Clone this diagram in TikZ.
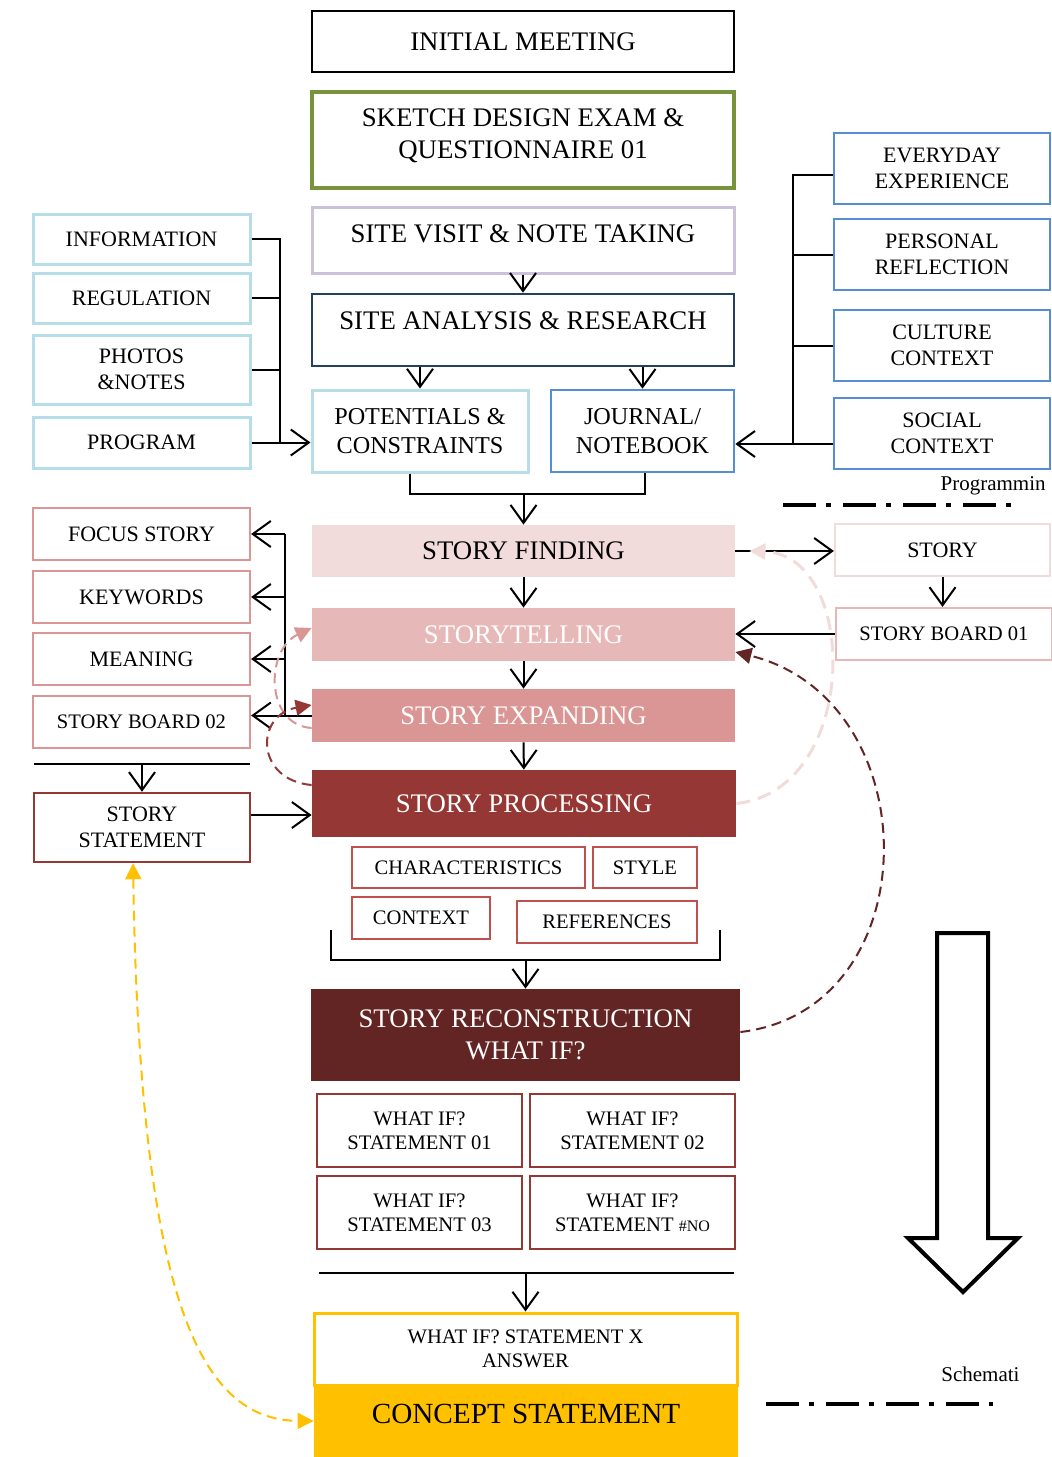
\documentclass[tikz,border=0pt]{standalone}
\usepackage{fontspec}
\setmainfont{Liberation Serif}
\usetikzlibrary{arrows.meta}

\definecolor{grn}{HTML}{77933C}
\definecolor{lav}{HTML}{CCC1DA}
\definecolor{nvy}{HTML}{243F60}
\definecolor{ltb}{HTML}{B7DEE8}
\definecolor{midb}{HTML}{558ED5}
\definecolor{pka}{HTML}{F2DCDB}
\definecolor{pkb}{HTML}{E6B9B8}
\definecolor{pkc}{HTML}{D99694}
\definecolor{pkd}{HTML}{953735}
\definecolor{pke}{HTML}{632523}
\definecolor{chr}{HTML}{C0504D}
\definecolor{gld}{HTML}{FFC000}

\tikzset{
  box/.style={draw, rectangle, inner sep=0pt, align=center},
  sz/.style 2 args={minimum width=#1*0.5pt, minimum height=#2*0.5pt},
  lift/.style={text depth=#1},
  fmain/.style={font=\fontsize{13.4}{16}\selectfont},
  fmid/.style={font=\fontsize{12.1}{14.5}\selectfont},
  fside/.style={font=\fontsize{11}{13}\selectfont},
  fsmall/.style={font=\fontsize{10.3}{12}\selectfont},
  arr/.style={-{Straight Barb[length=9pt,width=13pt]}, line width=1pt},
  wire/.style={line width=1pt},
  fb/.style={line width=1pt, dash pattern=on 5pt off 3pt, -{Triangle[length=8pt,width=8pt]}},
  dashdot/.style={line width=2pt, dash pattern=on 16.5pt off 5pt on 2.5pt off 6pt}
}

\begin{document}
\begin{tikzpicture}[x=0.5pt, y=-0.5pt]
\useasboundingbox (0,0) rectangle (1052,1457);

% main column
\node[box, sz={422}{61}, line width=1.25pt, fmain] (im) at (523,41.5) {INITIAL MEETING};
\node[box, sz={422}{96}, draw=grn, line width=1.7pt, fmain, lift=6pt] (sk) at (523,140) {SKETCH DESIGN EXAM \&\\QUESTIONNAIRE 01};
\node[box, sz={422}{66}, draw=lav, line width=1.5pt, fmain, lift=6pt] (sv) at (523,240) {SITE VISIT \& NOTE TAKING};
\node[box, sz={422}{72}, draw=nvy, line width=1.3pt, fmain, lift=9pt] (sa) at (523,330) {SITE ANALYSIS \& RESEARCH};
\node[box, sz={216}{82}, draw=ltb, line width=1.5pt, fmid] (pc) at (420,431) {POTENTIALS \&\\CONSTRAINTS};
\node[box, sz={183}{82}, draw=midb, line width=1.3pt, fmid] (jn) at (642.5,431) {JOURNAL/\\NOTEBOOK};

% site information
\node[box, sz={217}{50}, draw=ltb, line width=1.5pt, fside] (info) at (141.5,239) {INFORMATION};
\node[box, sz={217}{50}, draw=ltb, line width=1.5pt, fside] (reg) at (141.5,298) {REGULATION};
\node[box, sz={217}{69}, draw=ltb, line width=1.5pt, fside] (pho) at (141.5,369.5) {PHOTOS\\\&NOTES};
\node[box, sz={217}{51}, draw=ltb, line width=1.5pt, fside] (prog) at (141.5,442.5) {PROGRAM};

% journal sources
\node[box, sz={216}{71}, draw=midb, line width=1.2pt, fside] (ee) at (942,168.5) {EVERYDAY\\EXPERIENCE};
\node[box, sz={216}{71}, draw=midb, line width=1.2pt, fside] (pr) at (942,254.5) {PERSONAL\\REFLECTION};
\node[box, sz={216}{71}, draw=midb, line width=1.2pt, fside] (cc) at (942,345.5) {CULTURE\\CONTEXT};
\node[box, sz={216}{71}, draw=midb, line width=1.2pt, fside] (sc) at (942,433.5) {SOCIAL\\CONTEXT};

% story stages
\node[box, draw=none, fill=pka, sz={423}{52}, fmain] (sf) at (523.5,551) {STORY FINDING};
\node[box, draw=none, fill=pkb, sz={423}{53}, fmain, text=white] (stl) at (523.5,634.5) {STORYTELLING};
\node[box, draw=none, fill=pkc, sz={423}{53}, fmain, text=white] (se) at (523.5,715.5) {STORY EXPANDING};
\node[box, draw=none, fill=pkd, sz={424}{67}, fmain, text=white] (sp) at (524,803.5) {STORY PROCESSING};

% story outputs
\node[box, sz={217}{52}, draw=pkc, line width=1.1pt, fside] (fs) at (141.5,534) {FOCUS STORY};
\node[box, sz={217}{52}, draw=pkc, line width=1.1pt, fside] (kw) at (141.5,597) {KEYWORDS};
\node[box, sz={217}{52}, draw=pkc, line width=1.1pt, fside] (mn) at (141.5,659) {MEANING};
\node[box, sz={217}{52}, draw=pkc, line width=1.1pt, fsmall] (sb2) at (141.5,722) {STORY BOARD 02};
\node[box, sz={216}{69}, draw=pkd, line width=1.2pt, fside] (sst) at (142,827.5) {STORY\\STATEMENT};
\node[box, sz={215}{52}, draw=pka, line width=1.1pt, fside] (st) at (942.5,550) {STORY};
\node[box, sz={216}{52}, draw=pkb, line width=1.1pt, fsmall] (sb1) at (944,634) {STORY BOARD 01};

% processing aspects
\node[box, sz={233}{41}, draw=chr, line width=1.1pt, fsmall] (ch) at (468.5,867.5) {CHARACTERISTICS};
\node[box, sz={104}{41}, draw=chr, line width=1.1pt, fsmall] (sty) at (645,867.5) {STYLE};
\node[box, sz={138}{42}, draw=chr, line width=1.1pt, fsmall] (ctx) at (421,918) {CONTEXT};
\node[box, sz={180}{42}, draw=chr, line width=1.1pt, fsmall] (ref) at (607,922) {REFERENCES};

% reconstruction
\node[box, draw=none, fill=pke, sz={429}{92}, fmain, text=white] (rc) at (525.5,1035) {STORY RECONSTRUCTION\\WHAT IF?};
\node[box, sz={205}{73}, draw=pkd, line width=1.3pt, fsmall] (w1) at (419.5,1130.5) {WHAT IF?\\STATEMENT 01};
\node[box, sz={205}{73}, draw=pkd, line width=1.3pt, fsmall] (w2) at (632.5,1130.5) {WHAT IF?\\STATEMENT 02};
\node[box, sz={205}{73}, draw=pkd, line width=1.3pt, fsmall] (w3) at (419.5,1212.5) {WHAT IF?\\STATEMENT 03};
\node[box, sz={205}{73}, draw=pkd, line width=1.3pt, fsmall] (w4) at (632.5,1212.5) {WHAT IF?\\STATEMENT {\fontsize{8}{9}\selectfont\#NO}};

% concept
\node[box, sz={423}{72}, draw=gld, line width=1.5pt, fsmall] (wa) at (525.5,1349) {WHAT IF? STATEMENT X\\ANSWER};
\node[box, draw=none, fill=gld, sz={424}{72}, font=\fontsize{14.6}{17}\selectfont, lift=7pt] (cs) at (526,1421) {CONCEPT STATEMENT};

% side notes
\node[anchor=base east, font=\fontsize{10.5}{12}\selectfont, inner sep=0pt] (prg) at (1046,490) {Programmin};
\node[anchor=base west, font=\fontsize{10.5}{12}\selectfont, inner sep=0pt] (sch) at (941,1381) {Schemati};
\draw[dashdot] (783,505) -- (1012,505);
\draw[dashdot] (766,1404) -- (993,1404);

% main flow
\draw[arr] (sv) -- (sa);
\draw[arr] (sa.south -| pc) -- (pc);
\draw[arr] (sa.south -| jn) -- (jn);
\coordinate (pj) at (523.5,494);
\draw[wire] ([xshift=-5pt]pc.south) |- (pj) -| ([xshift=1pt]jn.south);
\draw[arr] (pj) -- (sf);
\draw[arr] (sf) -- (stl);
\draw[arr] (stl) -- (se);
\draw[arr] (se) -- (sp);

% left and right buses
\coordinate (lbus) at (280,442.5);
\draw[wire] (info.east) -| (lbus);
\draw[wire] (reg.east) -- (reg.east -| lbus);
\draw[wire] (pho.east) -- (pho.east -| lbus);
\draw[arr] (prog.east) -- (prog.east -| pc.west);
\coordinate (rbus) at (793,444);
\draw[wire] ([yshift=-3pt]ee.west) -| (rbus);
\draw[wire] (pr.west) -- (pr.west -| rbus);
\draw[wire] (cc.west) -- (cc.west -| rbus);
\draw[arr] (rbus -| sc.west) -- (rbus -| jn.east);

% story outputs
\coordinate (sbus) at (285,534);
\draw[wire] (sbus) -- (se.west -| sbus);
\draw[arr] (sbus) -- (fs.east);
\draw[arr] (kw.east -| sbus) -- (kw.east);
\draw[arr] (mn.east -| sbus) -- (mn.east);
\draw[arr] (se.west) -- (se.west -| sb2.east);
\coordinate (ssl) at (34,764);
\coordinate (ssr) at (250,764);
\draw[wire] (ssl) -- (ssr);
\draw[arr] (ssl -| sst) -- (sst);
\draw[arr] ([yshift=6.25pt]sst.east) -- ([yshift=6.25pt]sst.east -| sp.west);
\draw[arr] (sf.east) -- (sf.east -| st.west);
\draw[arr] (st) -- (st |- sb1.north);
\draw[arr] (sb1.west) -- (sb1.west -| stl.east);

% aspects to reconstruction
\coordinate (cbl) at (331,960);
\coordinate (cbr) at (720,960);
\draw[wire] ([yshift=15pt]cbl) -- (cbl) -- (cbr) -- ([yshift=15pt]cbr);
\draw[arr] (cbl -| rc) -- (rc);
\coordinate (wl) at (319,1273);
\coordinate (wr) at (734,1273);
\draw[wire] (wl) -- (wr);
\draw[arr] (wl -| wa) -- (wa);

% feedback loops
\draw[fb, pka, line width=1.5pt, dash pattern=on 7pt off 4pt] (sp.east) .. controls (860,790) and (860,555) .. ([xshift=7pt]sf.east);
\draw[fb, pke] ([yshift=1.5pt]rc.east) .. controls (930,1010) and (930,700) .. ([yshift=-8.75pt]stl.east);
\draw[fb, pkc] ([yshift=-6.25pt]se.west) .. controls (265,725) and (265,650) .. ([yshift=3.25pt]stl.west);
\draw[fb, pkd] ([yshift=9.25pt]sp.west) .. controls (255,780) and (255,715) .. ([yshift=5.25pt]se.west);
\draw[fb, gld, {Triangle[length=8pt,width=8pt]}-{Triangle[length=8pt,width=8pt]}] ([xshift=-4.5pt]sst.south) .. controls (140,1300) and (200,1420) .. (cs.west);

% direction arrow
\draw[line width=2pt] (937,933) -- (988,933) -- (988,1238) -- (1018,1238) -- (963,1292) -- (908,1238) -- (937,1238) -- cycle;
\end{tikzpicture}
\end{document}
